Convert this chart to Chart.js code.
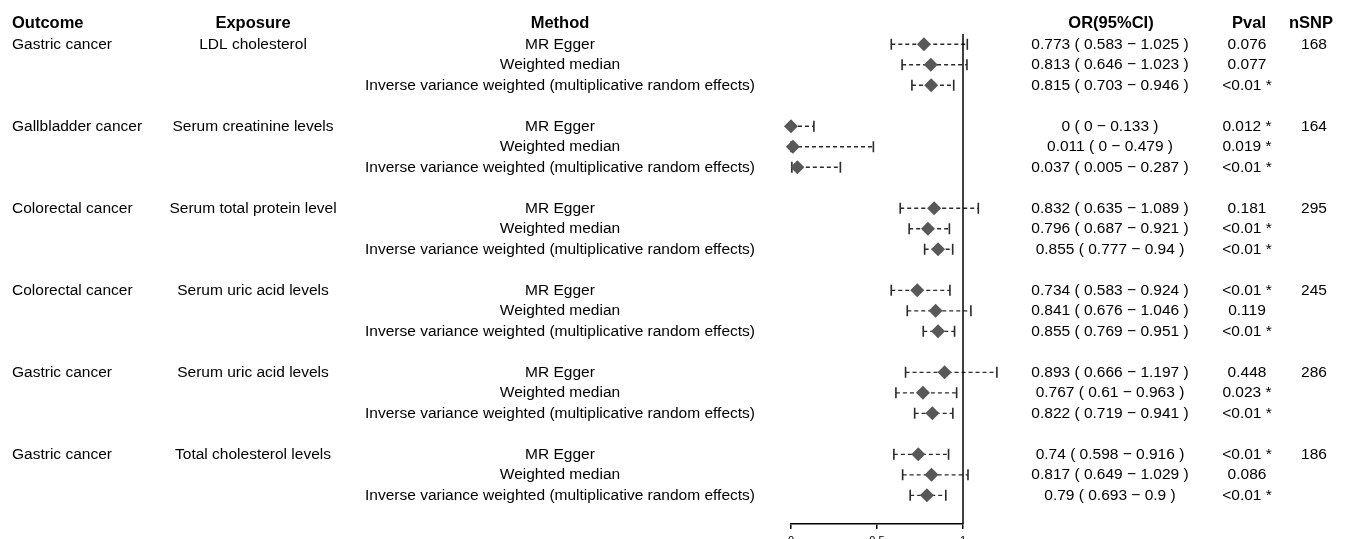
<!DOCTYPE html>
<html>
<head>
<meta charset="utf-8">
<script src="https://cdn.jsdelivr.net/npm/chart.js@4"></script>
<style>
  html, body { margin: 0; padding: 0; overflow: hidden; background: #fff; }
  #wrap { width: 1347px; height: 570px; }
</style>
</head>
<body>
<div id="wrap"><canvas id="forest" width="1347" height="570"></canvas></div>
<script>
// one entry per outcome/exposure block
const outcomes = ['Gastric cancer', 'Gallbladder cancer', 'Colorectal cancer', 'Colorectal cancer', 'Gastric cancer', 'Gastric cancer'];
const exposures = ['LDL cholesterol', 'Serum creatinine levels', 'Serum total protein level', 'Serum uric acid levels', 'Serum uric acid levels', 'Total cholesterol levels'];
const nSNP = [168, 164, 295, 245, 286, 186];
const methods = ['MR Egger', 'Weighted median', 'Inverse variance weighted (multiplicative random effects)'];

// one entry per row (block by block, method order as above)
const orValues = [0.773, 0.813, 0.815, 0, 0.011, 0.037, 0.832, 0.796, 0.855, 0.734, 0.841, 0.855, 0.893, 0.767, 0.822, 0.74, 0.817, 0.79];
const ciLower = [0.583, 0.646, 0.703, 0, 0, 0.005, 0.635, 0.687, 0.777, 0.583, 0.676, 0.769, 0.666, 0.61, 0.719, 0.598, 0.649, 0.693];
const ciUpper = [1.025, 1.023, 0.946, 0.133, 0.479, 0.287, 1.089, 0.921, 0.94, 0.924, 1.046, 0.951, 1.197, 0.963, 0.941, 0.916, 1.029, 0.9];
const pvals = ['0.076', '0.077', '<0.01 *', '0.012 *', '0.019 *', '<0.01 *', '0.181', '<0.01 *', '<0.01 *', '<0.01 *', '0.119', '<0.01 *', '0.448', '0.023 *', '<0.01 *', '<0.01 *', '0.086', '<0.01 *'];

const xTicks = [0, 0.5, 1];

// row position: 3 methods + 1 blank line per block
const rowPos = orValues.map((v, i) => Math.floor(i / 3) * 4 + (i % 3));

const FONT = '"Liberation Sans", Arial, sans-serif';

const errorBars = {
  id: 'errorBars',
  beforeDatasetsDraw(chart) {
    const { ctx, scales: { x, y } } = chart;
    ctx.save();
    ctx.strokeStyle = '#2a2a2a';
    rowPos.forEach((r, i) => {
      const py = y.getPixelForValue(r);
      const x0 = x.getPixelForValue(ciLower[i]);
      const x1 = x.getPixelForValue(ciUpper[i]);
      ctx.lineWidth = 1.3;
      ctx.setLineDash([4, 3]);
      ctx.beginPath();
      ctx.moveTo(x0, py);
      ctx.lineTo(x1, py);
      ctx.stroke();
      ctx.setLineDash([]);
      ctx.lineWidth = 1.6;
      ctx.beginPath();
      ctx.moveTo(x0, py - 5.5); ctx.lineTo(x0, py + 5.5);
      ctx.moveTo(x1, py - 5.5); ctx.lineTo(x1, py + 5.5);
      ctx.stroke();
    });
    // reference line at OR = 1
    const xr = x.getPixelForValue(1);
    ctx.strokeStyle = '#000';
    ctx.lineWidth = 1.5;
    ctx.beginPath();
    ctx.moveTo(xr, chart.chartArea.top);
    ctx.lineTo(xr, chart.chartArea.bottom);
    ctx.stroke();
    ctx.restore();
  }
};

const tableText = {
  id: 'tableText',
  afterDraw(chart) {
    const { ctx, scales: { y } } = chart;
    ctx.save();
    ctx.fillStyle = '#000';
    ctx.textBaseline = 'middle';

    const hy = y.getPixelForValue(-1);
    ctx.font = 'bold 16.5px ' + FONT;
    ctx.textAlign = 'left';
    ctx.fillText('Outcome', 12, hy);
    ctx.textAlign = 'center';
    ctx.fillText('Exposure', 253, hy);
    ctx.fillText('Method', 560, hy);
    ctx.fillText('OR(95%CI)', 1111, hy);
    ctx.fillText('Pval', 1249, hy);
    ctx.fillText('nSNP', 1311, hy);

    ctx.font = '15.5px ' + FONT;
    outcomes.forEach((o, b) => {
      const py = y.getPixelForValue(b * 4);
      ctx.textAlign = 'left';
      ctx.fillText(o, 12, py);
      ctx.textAlign = 'center';
      ctx.fillText(exposures[b], 253, py);
      ctx.fillText(String(nSNP[b]), 1314, py);
    });
    rowPos.forEach((r, i) => {
      const py = y.getPixelForValue(r);
      ctx.textAlign = 'center';
      ctx.fillText(methods[i % 3], 560, py);
      ctx.fillText(orValues[i] + ' ( ' + ciLower[i] + ' \u2212 ' + ciUpper[i] + ' )', 1110, py);
      ctx.fillText(pvals[i], 1247, py);
    });
    ctx.restore();
  }
};

new Chart(document.getElementById('forest'), {
  type: 'scatter',
  data: {
    datasets: [{
      data: orValues.map((v, i) => ({ x: v, y: rowPos[i] })),
      pointStyle: 'rectRot',
      pointRadius: 7,
      pointHoverRadius: 7,
      backgroundColor: '#585858',
      borderColor: '#585858',
      borderWidth: 0,
      clip: false
    }]
  },
  options: {
    responsive: false,
    animation: false,
    events: [],
    layout: { padding: { left: 791, right: 384, top: 34, bottom: 16 } },
    plugins: { legend: { display: false }, tooltip: { enabled: false } },
    scales: {
      x: {
        type: 'linear',
        min: 0,
        max: 1,
        afterBuildTicks: (s) => { s.ticks = xTicks.map(v => ({ value: v })); },
        afterFit: (s) => { s.height = 30; },
        border: { display: true, color: '#000', width: 1.5 },
        grid: { drawOnChartArea: false, drawTicks: true, tickLength: 5, color: '#000', lineWidth: 1.5 },
        ticks: { color: '#000', font: { size: 11, family: FONT }, padding: 5, maxRotation: 0, callback: (v) => String(v) }
      },
      y: {
        type: 'linear',
        display: false,
        reverse: true,
        min: -0.5,
        max: 23.4
      }
    }
  },
  plugins: [errorBars, tableText]
});
</script>
</body>
</html>
